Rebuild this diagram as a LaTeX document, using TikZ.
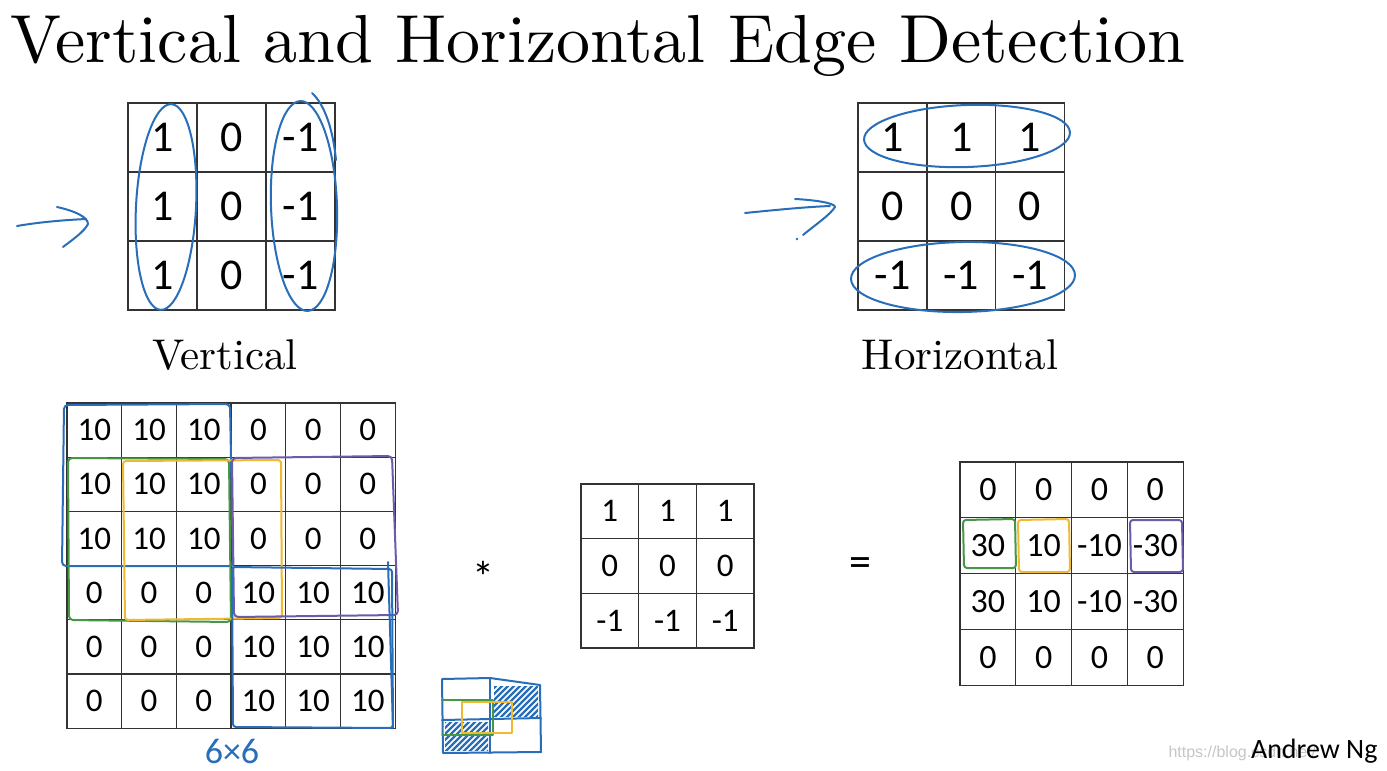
\documentclass[tikz,border=0pt]{standalone}
\usepackage{fontspec}
\newfontfamily\numfont{Carlito}
\newfontfamily\webfont{Liberation Sans}
\newfontfamily\cmfont{lmroman10-regular.otf}
\definecolor{penblue}{RGB}{40,110,185}
\definecolor{pengreen}{RGB}{70,150,70}
\definecolor{penorange}{RGB}{240,185,50}
\definecolor{penpurple}{RGB}{110,90,170}
\begin{document}
\begin{tikzpicture}[x=1pt,y=-1pt,
  cell/.style={draw=black!80,line width=1.3pt,inner sep=0pt},
  topcell/.style={cell,minimum width=69pt,minimum height=69pt,font=\numfont\fontsize{44}{44}\selectfont},
  imgcell/.style={cell,minimum width=54.7pt,minimum height=54.2pt,font=\numfont\fontsize{33}{33}\selectfont},
  kercell/.style={cell,minimum width=57.7pt,minimum height=54.7pt,font=\numfont\fontsize{33}{33}\selectfont},
  outcell/.style={cell,minimum width=55.8pt,minimum height=55.8pt,font=\numfont\fontsize{34}{34}\selectfont},
  pen/.style={line width=2pt,line cap=round,line join=round},
  hatch/.style={penblue,line width=2.2pt,line cap=round}]
\fill[white] (0,0) rectangle (1387,771);
\path[use as bounding box] (0,0) rectangle (1387,771);

\node[anchor=base west,inner sep=0pt,font=\cmfont\fontsize{68}{80}\selectfont] (title) at (10,62) {Vertical and Horizontal Edge Detection};

\foreach \val [count=\k from 0] in {1,0,-1,1,0,-1,1,0,-1} {
  \pgfmathtruncatemacro{\r}{\k/3}
  \pgfmathtruncatemacro{\c}{mod(\k,3)}
  \node[topcell] (v\r\c) at ({162.5+69*\c},{137.5+69*\r}) {\val};
}
\foreach \val [count=\k from 0] in {1,1,1,0,0,0,-1,-1,-1} {
  \pgfmathtruncatemacro{\r}{\k/3}
  \pgfmathtruncatemacro{\c}{mod(\k,3)}
  \node[topcell] (h\r\c) at ({892.5+68.7*\c},{137.5+69*\r}) {\val};
}
\node[anchor=base,font=\cmfont\fontsize{43}{50}\selectfont] (vlabel) at (225,369) {Vertical};
\node[anchor=base,font=\cmfont\fontsize{43}{50}\selectfont] (hlabel) at (960,369) {Horizontal};

\draw[pen,penblue,rotate around={-3:(166,207)}] (166,207) ellipse [x radius=30pt,y radius=103pt];
\draw[pen,penblue,rotate around={2:(304,206)}] (304,206) ellipse [x radius=33pt,y radius=105pt];
\draw[pen,penblue] (312,93) .. controls (325,105) and (333,130) .. (336,160);
\draw[pen,penblue,rotate around={2:(967,136)}] (967,136) ellipse [x radius=103pt,y radius=31pt];
\draw[pen,penblue,rotate around={1:(963,277)}] (963,277) ellipse [x radius=112pt,y radius=35pt];

\draw[pen,penblue] (17,226) .. controls (40,222) and (65,220) .. (86,219);
\draw[pen,penblue] (57,207) .. controls (75,211) and (88,217) .. (88,224) .. controls (84,232) and (72,240) .. (63,247);
\draw[pen,penblue] (745,213) .. controls (775,210) and (805,207) .. (830,206);
\draw[pen,penblue] (795,199) .. controls (815,200) and (835,203) .. (835,207) .. controls (830,215) and (815,225) .. (803,235);
\fill[penblue] (797,239) circle (1.3pt);

\foreach \val [count=\k from 0] in {10,10,10,0,0,0,10,10,10,0,0,0,10,10,10,0,0,0,0,0,0,10,10,10,0,0,0,10,10,10,0,0,0,10,10,10} {
  \pgfmathtruncatemacro{\r}{\k/6}
  \pgfmathtruncatemacro{\c}{mod(\k,6)}
  \node[imgcell] (a\r\c) at ({94.35+54.7*\c},{430.1+54.2*\r}) {\val};
}
\foreach \val [count=\k from 0] in {1,1,1,0,0,0,-1,-1,-1} {
  \pgfmathtruncatemacro{\r}{\k/3}
  \pgfmathtruncatemacro{\c}{mod(\k,3)}
  \node[kercell] (k\r\c) at ({609.85+57.7*\c},{511.35+54.7*\r}) {\val};
}
\foreach \val [count=\k from 0] in {0,0,0,0,30,10,-10,-30,30,10,-10,-30,0,0,0,0} {
  \pgfmathtruncatemacro{\r}{\k/4}
  \pgfmathtruncatemacro{\c}{mod(\k,4)}
  \node[outcell] (o\r\c) at ({987.9+55.8*\c},{489.9+55.8*\r}) {\val};
}
\node[font=\numfont\fontsize{44}{44}\selectfont] (star) at (483,577) {*};
\node[font=\numfont\fontsize{44}{44}\selectfont] (equals) at (860,567) {=};

\draw[pen,penblue,rounded corners=4pt] (64,405) -- (230,404) -- (233,566) -- (62,566) -- cycle;
\draw[pen,pengreen,rounded corners=4pt] (68,458) -- (229,459) -- (231,622) -- (69,620) -- cycle;
\draw[pen,penorange,rounded corners=3pt] (123,461) -- (281,460) -- (282,618) -- (125,620) -- cycle;
\draw[pen,penpurple,rounded corners=4pt] (232,458) -- (392,456) -- (398,615) -- (234,617) -- cycle;
\draw[pen,penblue,rounded corners=3pt] (232,567) -- (392,569) -- (393,728) -- (233,727) -- cycle;
\draw[pen,penblue] (393,728) -- (388,562);
\node[penblue,anchor=center,inner sep=0pt,font=\numfont\fontsize{36}{36}\selectfont] (size) at (232,751) {6×6};

\draw[pen,pengreen,rounded corners=3pt] (963,520) -- (1015,519) -- (1016,568) -- (964,568) -- cycle;
\draw[pen,penorange,rounded corners=3pt] (1018,520) -- (1069,519) -- (1070,572) -- (1019,572) -- cycle;
\draw[pen,penpurple,rounded corners=3pt] (1130,520) -- (1182,520) -- (1183,572) -- (1131,572) -- cycle;

\begin{scope}
\clip (494,686) rectangle (538,716);
\foreach \s in {0,6,...,90} \draw[hatch] (\s+450,720) -- ++(40,-40);
\end{scope}
\begin{scope}
\clip (445,722) rectangle (488,750);
\foreach \s in {0,6,...,90} \draw[hatch] (\s+400,755) -- ++(40,-40);
\end{scope}
\draw[pen,penblue] (442,679) -- (490,678) -- (540,685) -- (541,752) -- (443,753) -- cycle;
\draw[pen,penblue] (490,678) -- (490,753);
\draw[pen,penblue] (442,720) -- (541,718);
\draw[pen,pengreen] (442,700) -- (493,700) -- (493,735) -- (442,735);
\draw[pen,penorange] (462,702) -- (512,702) -- (512,733) -- (462,733) -- cycle;

\node[anchor=base west,gray!45,font=\webfont\fontsize{16}{16}\selectfont] (blog) at (1165,757) {https://blog.csdn.net/};
\node[anchor=base east,font=\numfont\fontsize{28}{28}\selectfont] (author) at (1381,758) {Andrew Ng};
\end{tikzpicture}
\end{document}
